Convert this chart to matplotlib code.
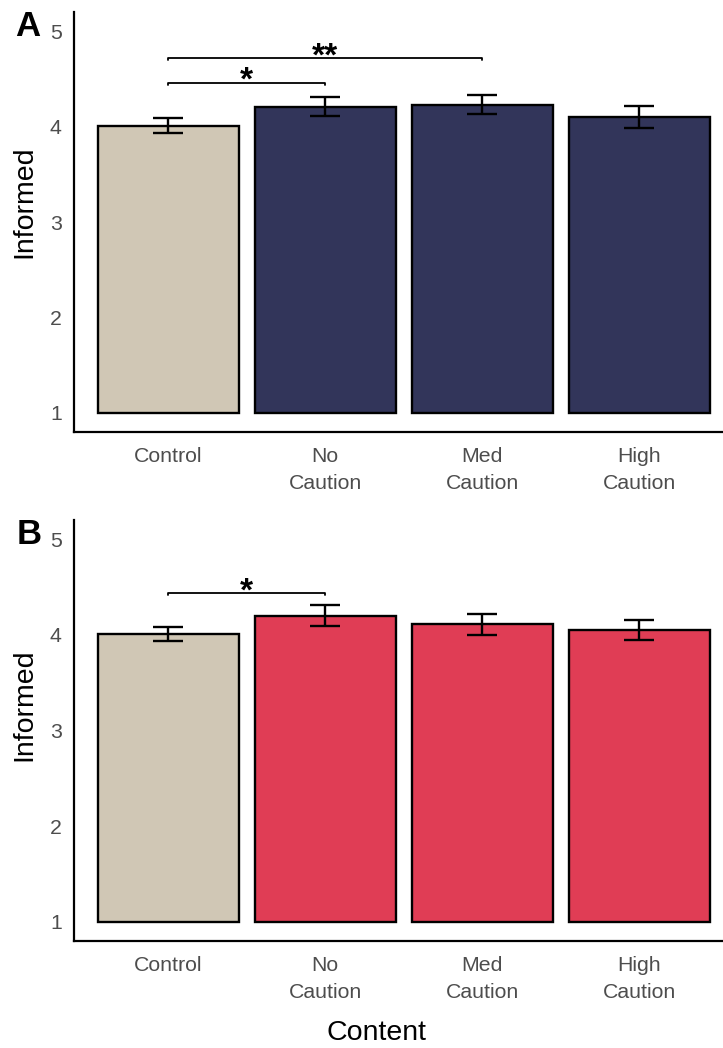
import matplotlib
matplotlib.use('Agg')
import matplotlib.pyplot as plt

# ---- data ----
categories = ['Control', 'No\nCaution', 'Med\nCaution', 'High\nCaution']
means_a = [4.01, 4.21, 4.23, 4.10]
se_a = [0.075, 0.098, 0.097, 0.113]
means_b = [4.01, 4.20, 4.11, 4.05]
se_b = [0.073, 0.109, 0.108, 0.109]
yticks = [1, 2, 3, 4, 5]
sig_a = [(0, 1, '*', 4.455), (0, 2, '**', 4.714)]
sig_b = [(0, 1, '*', 4.434)]

plt.rcParams['font.family'] = ['Liberation Sans', 'DejaVu Sans']

W, H = 723, 1048
fig = plt.figure(figsize=(W / 100, H / 100), dpi=100)

def px_axes(left, top, right, bottom):
    return fig.add_axes([left / W, 1 - bottom / H, (right - left) / W, (bottom - top) / H])

ctrl_col = '#D0C7B5'
def draw_panel(ax, means, se, color, sigs):
    x = list(range(len(categories)))
    cols = [ctrl_col] + [color] * (len(categories) - 1)
    ax.bar(x, [m - 1 for m in means], bottom=1, width=0.9, color=cols,
           edgecolor='black', linewidth=1.7, zorder=2)
    ax.errorbar(x, means, yerr=se, fmt='none', ecolor='black', elinewidth=1.7,
                capsize=10.8, capthick=1.7, zorder=3)
    for (i, j, lab, y) in sigs:
        tip = 0.02
        ax.plot([i, i, j, j], [y - tip, y, y, y - tip], color='black', lw=1.3,
                solid_capstyle='round', solid_joinstyle='round', zorder=3)
        ax.annotate(lab, xy=((i + j) / 2, y), xytext=(0, -5), textcoords='offset points',
                    ha='center', va='baseline', fontsize=24, fontweight='bold', color='black')
    ax.set_ylim(0.8, 5.2)
    ax.set_xlim(-0.6, -0.6 + 649 / 157)
    ax.set_yticks(yticks)
    ax.set_yticklabels([str(t) for t in yticks])
    ax.set_xticks(x)
    ax.set_xticklabels(categories, linespacing=1.5)
    for s in ['top', 'right']:
        ax.spines[s].set_visible(False)
    for s in ['left', 'bottom']:
        ax.spines[s].set_linewidth(1.6)
        ax.spines[s].set_color('black')
    ax.tick_params(axis='both', length=0, labelsize=15.3, labelcolor='#4D4D4D')
    ax.tick_params(axis='y', pad=8.8)
    ax.tick_params(axis='x', pad=11.0)

ax_a = px_axes(74, 12, 723, 432)
draw_panel(ax_a, means_a, se_a, '#32355A', sig_a)
ax_b = px_axes(74, 520, 723, 941)
draw_panel(ax_b, means_b, se_b, '#E03D55', sig_b)

fig.text(15 / W, 1 - 26 / H, 'A', fontsize=25, fontweight='bold', ha='left', va='center')
fig.text(17 / W, 1 - 535 / H, 'B', fontsize=25, fontweight='bold', ha='left', va='center')
fig.text(24 / W, 1 - 202 / H, 'Informed', fontsize=20.5, rotation=90, ha='center', va='center')
fig.text(24 / W, 1 - 705 / H, 'Informed', fontsize=20.5, rotation=90, ha='center', va='center')
fig.text(376 / W, 1 - 1033 / H, 'Content', fontsize=20.5, ha='center', va='center')

fig.savefig('out.png', dpi=100)
